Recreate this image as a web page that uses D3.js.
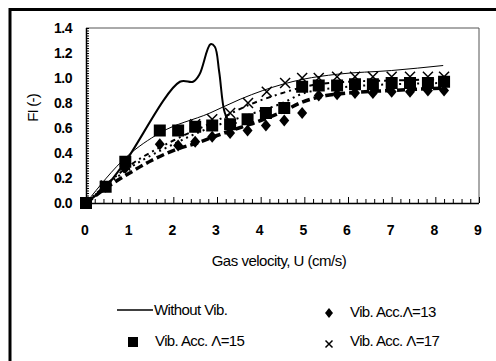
<!DOCTYPE html>
<html>
<head>
<meta charset="utf-8">
<script src="https://cdn.jsdelivr.net/npm/d3@7"></script>
<style>
  body { margin: 0; background: #fff; }
  svg { display: block; font-family: "Liberation Sans", Arial, sans-serif; }
</style>
</head>
<body>
<script>
// data: [U (cm/s), FI (-)]
const withoutVib = [[0,0],[0.45,0.13],[0.9,0.33],[2.15,0.97],[2.45,0.97],[2.6,1.03],[2.85,1.27],[2.95,1.25],[3.05,1.05],[3.18,0.72],[3.3,0.65],[3.45,0.64]];
const acc13 = [[0,0],[0.45,0.13],[0.9,0.28],[1.69,0.47],[2.11,0.46],[2.5,0.49],[2.89,0.53],[3.3,0.56],[3.7,0.58],[4.12,0.62],[4.54,0.66],[4.95,0.72],[5.33,0.86],[5.75,0.87],[6.16,0.88],[6.57,0.88],[7.0,0.89],[7.42,0.89],[7.83,0.9],[8.2,0.9]];
const acc15 = [[0,0],[0.45,0.13],[0.9,0.33],[1.69,0.58],[2.11,0.58],[2.5,0.61],[2.89,0.62],[3.3,0.63],[3.7,0.67],[4.12,0.72],[4.54,0.76],[4.95,0.93],[5.33,0.94],[5.75,0.94],[6.16,0.95],[6.57,0.95],[7.0,0.96],[7.42,0.96],[7.83,0.96],[8.2,0.97]];
const acc17 = [[0,0],[0.45,0.14],[0.9,0.3],[2.5,0.63],[2.89,0.67],[3.3,0.72],[3.71,0.8],[4.14,0.89],[4.56,0.96],[4.95,1.0],[5.33,1.0],[5.75,1.01],[6.16,1.01],[6.57,1.01],[7.0,1.01],[7.42,1.01],[7.83,1.01],[8.2,1.01]];

// trend curves drawn through the series
const trendThin = [[0,0],[0.93,0.37],[1.69,0.56],[2.84,0.72],[3.53,0.83],[4.05,0.9],[4.97,0.99],[5.75,1.03],[7,1.06],[8.18,1.1]];
const trend17 = [[0,0],[1,0.3],[2,0.5],[3,0.66],[3.7,0.78],[4.5,0.88],[5,0.93],[6,0.97],[7,0.98],[8.2,0.99]];
const trend15 = [[0,0],[1,0.28],[2,0.47],[2.68,0.58],[3.5,0.68],[4.5,0.8],[5,0.88],[6,0.93],[7,0.95],[8.2,0.96]];
const trend13 = [[0,0],[0.5,0.13],[1,0.24],[1.5,0.34],[2.08,0.43],[2.54,0.48],[3,0.54],[3.5,0.6],[4,0.66],[4.5,0.73],[4.9,0.8],[5.5,0.86],[6,0.88],[7,0.9],[8.2,0.92]];

const xTicks = [0,1,2,3,4,5,6,7,8,9];
const yTicks = [0,0.2,0.4,0.6,0.8,1.0,1.2,1.4];

const width = 496, height = 361;
const marginLeft = 86, plotRight = 479, plotTop = 28, plotBottom = 203;

const x = d3.scaleLinear().domain([0, 9]).range([marginLeft, plotRight]);
const y = d3.scaleLinear().domain([0, 1.4]).range([plotBottom, plotTop]);

const svg = d3.select("body").append("svg")
  .attr("width", width)
  .attr("height", height);

// outer frame (top and left only visible)
svg.append("path")
  .attr("d", `M10,${height} L10,9.5 L${width},9.5`)
  .attr("fill", "none")
  .attr("stroke", "#000")
  .attr("stroke-width", 3);

// plot frame
svg.append("path")
  .attr("d", `M${marginLeft},${plotTop} L${plotRight},${plotTop} L${plotRight},${plotBottom}`)
  .attr("fill", "none")
  .attr("stroke", "#555")
  .attr("stroke-width", 1);

// x axis
const gx = svg.append("g").attr("transform", `translate(0,${plotBottom})`);
gx.call(d3.axisBottom(x).tickValues(d3.range(0, 9.001, 0.2)).tickSize(-4).tickFormat(""));
gx.selectAll(".tick line").filter(d => Math.abs(d - Math.round(d)) < 1e-6).attr("y2", -6);
gx.select(".domain").attr("d", `M${marginLeft},0.5H${plotRight}`).attr("stroke", "#000").attr("stroke-width", 1.5);
gx.selectAll(".tick line").attr("stroke", "#000");

svg.append("g").selectAll("text")
  .data(xTicks)
  .join("text")
  .attr("x", d => x(d) - 1)
  .attr("y", 235)
  .attr("text-anchor", "middle")
  .attr("font-size", 14)
  .attr("font-weight", "bold")
  .text(d => d);

// y axis
const gy = svg.append("g").attr("transform", `translate(${marginLeft},0)`);
gy.call(d3.axisLeft(y).tickValues(d3.range(0, 1.4001, 0.02)).tickSize(-3).tickFormat(""));
gy.select(".domain").attr("d", `M0.5,${plotTop}V${plotBottom}`).attr("stroke", "#000").attr("stroke-width", 1.5);
gy.selectAll(".tick line").attr("stroke", "#000");

svg.append("g").selectAll("text")
  .data(yTicks)
  .join("text")
  .attr("x", 72)
  .attr("y", d => y(d) + 5)
  .attr("text-anchor", "end")
  .attr("font-size", 14)
  .attr("font-weight", "bold")
  .attr("letter-spacing", -0.5)
  .text(d => d.toFixed(1));

// axis titles
svg.append("text")
  .attr("x", 279)
  .attr("y", 266)
  .attr("text-anchor", "middle")
  .attr("font-size", 15)
  .attr("letter-spacing", -0.5)
  .text("Gas velocity, U (cm/s)");

svg.append("text")
  .attr("transform", `translate(38,108) rotate(-90)`)
  .attr("text-anchor", "middle")
  .attr("font-size", 15)
  .attr("letter-spacing", -0.8)
  .text("FI (-)");

const line = d3.line().x(d => x(d[0])).y(d => y(d[1])).curve(d3.curveMonotoneX);

// trend lines
svg.append("path").attr("d", line(trendThin)).attr("fill", "none").attr("stroke", "#000").attr("stroke-width", 1);
svg.append("path").attr("d", line(trend17)).attr("fill", "none").attr("stroke", "#000").attr("stroke-width", 2).attr("stroke-dasharray", "5,4,2,4");
svg.append("path").attr("d", line(trend15)).attr("fill", "none").attr("stroke", "#000").attr("stroke-width", 2).attr("stroke-dasharray", "2,4");
svg.append("path").attr("d", line(trend13)).attr("fill", "none").attr("stroke", "#000").attr("stroke-width", 3.5).attr("stroke-dasharray", "8,4");

// without vibration
svg.append("path")
  .attr("d", d3.line().x(d => x(d[0])).y(d => y(d[1])).curve(d3.curveCatmullRom)(withoutVib))
  .attr("fill", "none")
  .attr("stroke", "#000")
  .attr("stroke-width", 2);

// markers
svg.append("g").selectAll("path")
  .data(acc13)
  .join("path")
  .attr("transform", d => `translate(${x(d[0])},${y(d[1])})`)
  .attr("d", "M0,-6L5,0L0,6L-5,0Z")
  .attr("fill", "#000");

svg.append("g").selectAll("rect")
  .data(acc15)
  .join("rect")
  .attr("x", d => x(d[0]) - 6)
  .attr("y", d => y(d[1]) - 6)
  .attr("width", 12)
  .attr("height", 12)
  .attr("fill", "#000");

svg.append("g").selectAll("path")
  .data(acc17)
  .join("path")
  .attr("transform", d => `translate(${x(d[0])},${y(d[1])})`)
  .attr("d", "M-5,-5L5,5M-5,5L5,-5")
  .attr("stroke", "#000")
  .attr("stroke-width", 1.5);

// legend
const lg = svg.append("g").attr("font-size", 15).attr("letter-spacing", -0.6);
lg.append("line").attr("x1", 117).attr("x2", 153).attr("y1", 310).attr("y2", 310).attr("stroke", "#000").attr("stroke-width", 1.5);
lg.append("text").attr("x", 154).attr("y", 315).text("Without Vib.");
lg.append("path").attr("transform", "translate(329,313)").attr("d", "M0,-5L4,0L0,5L-4,0Z").attr("fill", "#000");
lg.append("text").attr("x", 350).attr("y", 317).text("Vib. Acc.\u039b=13");
lg.append("rect").attr("x", 128).attr("y", 337).attr("width", 10).attr("height", 10).attr("fill", "#000");
lg.append("text").attr("x", 155).attr("y", 346).text("Vib. Acc. \u039b=15");
lg.append("path").attr("transform", "translate(329,344)").attr("d", "M-3.5,-3.5L3.5,3.5M-3.5,3.5L3.5,-3.5").attr("stroke", "#000").attr("stroke-width", 1.5);
lg.append("text").attr("x", 350).attr("y", 346).text("Vib. Acc. \u039b=17");
</script>
</body>
</html>
